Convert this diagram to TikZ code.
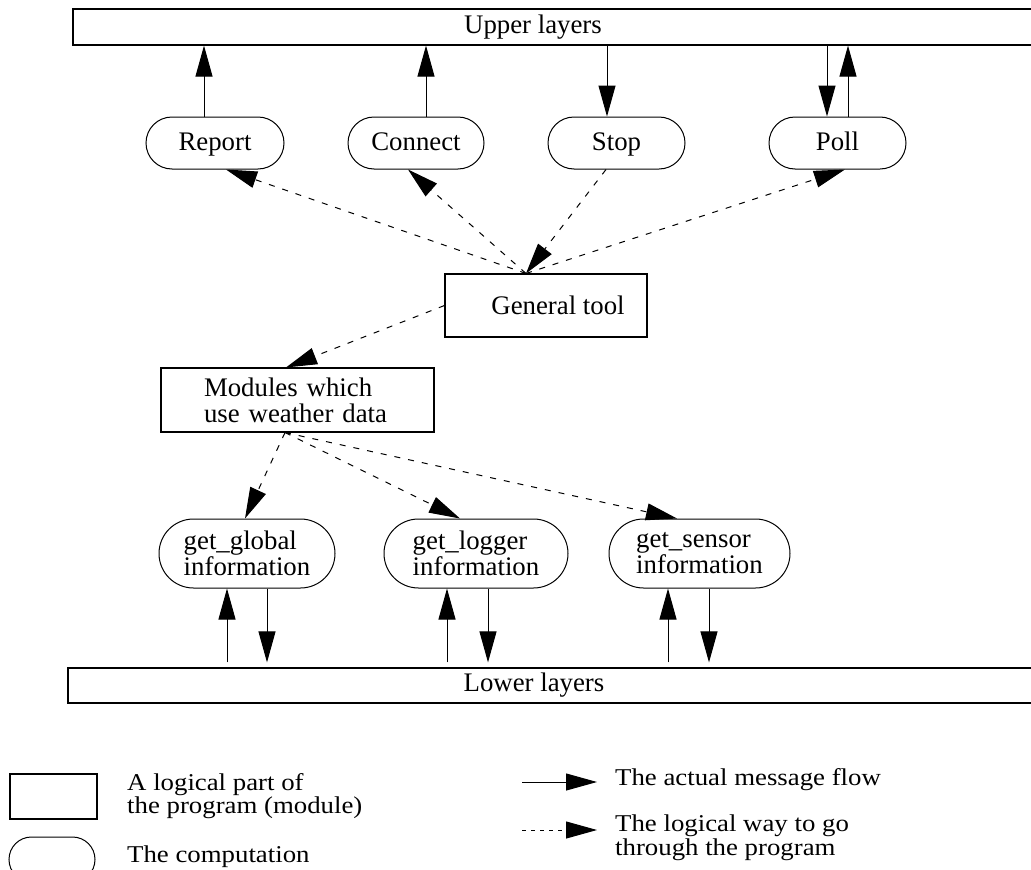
\documentclass[tikz,border=0pt]{standalone}
\usepackage{fontspec}
\setmainfont{Liberation Serif}
\usepackage{tikz}
\usetikzlibrary{shapes.misc,arrows.meta,calc}
\newcommand{\legendtext}[1]{\scalebox{1}[0.9]{\begin{tabular}{@{}l@{}}#1\end{tabular}}}

\begin{document}
\begin{tikzpicture}[x=1pt,y=-1pt,inner sep=2pt,font=\fontsize{26.8}{26}\selectfont]
    \tikzset{module/.style={draw,line width=1.1pt,shape=rectangle,align=left}}
    \tikzset{layer/.style={draw,line width=1.2pt,shape=rectangle,minimum width=1000pt}}
    \tikzset{comp/.style={draw,line width=1pt,shape=rounded rectangle,align=left}}
    \tikzset{onerow/.style={comp,text height=20pt,text depth=6pt,minimum height=52pt}}
    \tikzset{flow/.style={line width=1pt,-{Triangle[length=31pt,width=17pt]}}}
    \tikzset{logic/.style={flow,dash pattern=on 6pt off 8pt}}
    \tikzset{legend/.style={anchor=west,align=left,inner sep=0pt}}

    \useasboundingbox (0,0) rectangle (1031,870);
    \clip (0,0) rectangle (1031,870);

    % layers
    \node[layer,minimum height=36pt,label={[xshift=-40pt]center:Upper layers}] (upper) at (573,27) {};
    \node[layer,minimum height=35pt,label={[xshift=-34pt]center:Lower layers}] (lower) at (568,685.5) {};

    % computations and modules
    \node[onerow,minimum width=142pt] (report) at (215,143) {Report};
    \node[onerow,minimum width=140pt] (connect) at (416,143) {Connect};
    \node[onerow,minimum width=141pt] (stop) at (616.5,143) {Stop};
    \node[onerow,minimum width=141pt] (poll) at (837.5,143) {Poll};
    \node[module,minimum width=202pt,minimum height=63pt] (tool) at (546,305.5) {\hspace*{24pt}General tool};
    \node[module,minimum width=273pt,minimum height=64pt,text width=187pt] (modules) at (297.5,400) {Modules which\\use weather data};
    \node[comp,minimum width=180pt,minimum height=69pt] (global) at (247,553.5) {get\_global\\information};
    \node[comp,minimum width=188pt,minimum height=69pt] (logger) at (476,553.5) {get\_logger\\information};
    \node[comp,minimum width=185pt,minimum height=69pt] (sensor) at (699.5,553.5) {get\_sensor\\information};

    % message flow
    \draw[flow] ($(report.north)+(-11,0)$) -- ($(report.north |- upper.south)+(-11,0)$);
    \draw[flow] ($(connect.north)+(10,0)$) -- ($(connect.north |- upper.south)+(10,0)$);
    \draw[flow] ($(stop.north |- upper.south)+(-9.5,0)$) -- ($(stop.north)+(-9.5,0)$);
    \draw[flow] ($(poll.north |- upper.south)+(-10.5,0)$) -- ($(poll.north)+(-10.5,0)$);
    \draw[flow] ($(poll.north)+(10.5,0)$) -- ($(poll.north |- upper.south)+(10.5,0)$);
    \draw[flow] ($(global.south |- lower.north)+(-20,-5)$) -- ($(global.south)+(-20,0)$);
    \draw[flow] ($(global.south)+(20,0)$) -- ($(global.south |- lower.north)+(20,-5)$);
    \draw[flow] ($(logger.south |- lower.north)+(-29,-5)$) -- ($(logger.south)+(-29,0)$);
    \draw[flow] ($(logger.south)+(12,0)$) -- ($(logger.south |- lower.north)+(12,-5)$);
    \draw[flow] ($(sensor.south |- lower.north)+(-31.5,-5)$) -- ($(sensor.south)+(-31.5,0)$);
    \draw[flow] ($(sensor.south)+(9.5,0)$) -- ($(sensor.south |- lower.north)+(9.5,-5)$);

    % logical way
    \coordinate (tooltop) at ($(tool.north)+(-20,0)$);
    \coordinate (modbottom) at ($(modules.south)+(-12.5,0)$);
    \draw[logic] (tooltop) -- ($(report.south)+(11,0)$);
    \draw[logic] (tooltop) -- ($(connect.south)+(-8,0)$);
    \draw[logic] ($(stop.south)+(-10.5,0)$) -- (tooltop);
    \draw[logic] (tooltop) -- ($(poll.south)+(7.5,0)$);
    \draw[logic] (tool.west) -- ($(modules.north)+(-11.5,0)$);
    \draw[logic] (modbottom) -- ($(global.north)+(-2,0)$);
    \draw[logic] (modbottom) -- ($(logger.north)+(-16,0)$);
    \draw[logic] (modbottom) -- ($(sensor.north)+(-22.5,0)$);

    % legend
    \node[module,minimum width=87pt,minimum height=45pt] (legmod) at (53.5,796.5) {};
    \node[comp,minimum width=90pt,minimum height=45pt] (legcomp) at (52,859.5) {};
    \node[legend] (legmodtext) at (127,797) {\legendtext{A logical part of\\the program (module)}};
    \node[legend] (legcomptext) at (127,858) {\legendtext{The computation}};
    \coordinate (flowa) at (522,782);
    \coordinate (flowb) at (597,782);
    \coordinate (logica) at (522,830);
    \coordinate (logicb) at (597,830);
    \draw[flow] (flowa) -- (flowb);
    \draw[flow,dash pattern=on 4pt off 5pt] (logica) -- (logicb);
    \node[legend] (flowtext) at (615,781) {\legendtext{The actual message flow}};
    \node[legend] (logictext) at (615,839) {\legendtext{The logical way to go\\through the program}};
\end{tikzpicture}
\end{document}
